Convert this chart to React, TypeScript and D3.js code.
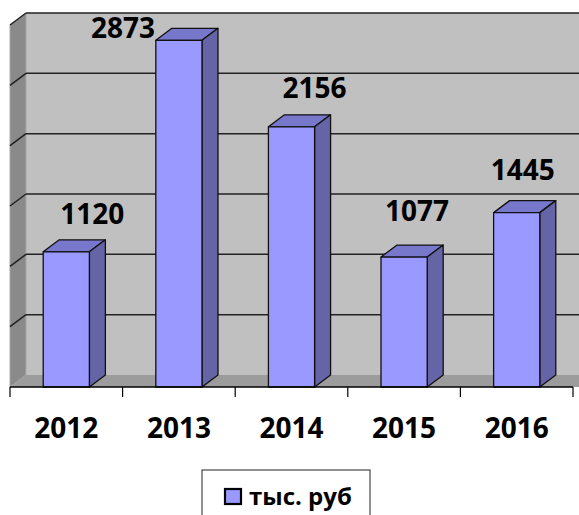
import * as d3 from 'd3';

const years = ['2012', '2013', '2014', '2015', '2016'];
const values = [1120, 2873, 2156, 1077, 1445];
const yTickValues = [0, 500, 1000, 1500, 2000, 2500, 3000];
const seriesName = 'тыс. руб';

// label nudges (Excel placed them a bit unevenly)
const labelDx = [26, -56, 23, 13, 6];
const labelGap = [28, 2, 29, 36, 33];

const W = 579;
const H = 515;
const FONT = '"Open Sans", "DejaVu Sans", sans-serif';

export default function App() {
  const floorY = 387; // front edge of floor
  const left = 10;
  const right = 573;
  const dx = 16;
  const dy = 12;
  const wallH = 362;

  const x = d3.scaleBand<string>().domain(years).range([left, right]).padding(0);
  const h = d3.scaleLinear().domain([0, 3000]).range([0, wallH]);
  const barW = x.bandwidth() * 0.41;

  const backBottom = floorY - dy;
  const backTop = backBottom - wallH;

  const front = '#9999FF';
  const top = '#7777CC';
  const side = '#6464A6';

  return (
    <div style={{ position: 'absolute', left: 0, top: 0 }}>
      <svg width={W} height={H} style={{ display: 'block' }}>
        <rect x={0} y={0} width={W} height={H} fill="#fff" />
        {/* back wall */}
        <rect x={left + dx} y={backTop} width={W} height={wallH} fill="#C0C0C0" />
        {/* left wall */}
        <polygon
          points={`${left},${floorY - wallH} ${left + dx},${backTop} ${left + dx},${backBottom} ${left},${floorY}`}
          fill="#8A8A8A"
          stroke="#A8A8A8"
          strokeWidth={1}
        />
        {/* floor */}
        <polygon
          points={`${left},${floorY} ${left + dx},${backBottom} ${right + dx + 20},${backBottom} ${right + 20},${floorY}`}
          fill="#9C9C9C"
        />
        {/* gridlines */}
        {yTickValues.filter(t => t > 0).map(t => (
          <g key={t}>
            <line x1={left + dx} x2={W + 10} y1={backBottom - h(t)} y2={backBottom - h(t)} stroke="#222" strokeWidth={1.5} />
            <line x1={left} x2={left + dx} y1={floorY - h(t)} y2={backBottom - h(t)} stroke="#222" strokeWidth={1.5} />
          </g>
        ))}
        {/* bars */}
        {values.map((v, i) => {
          const x0 = (x(years[i]) as number) + (x.bandwidth() - barW) / 2;
          const x1 = x0 + barW;
          const yT = floorY - h(v);
          return (
            <g key={years[i]} stroke="#111" strokeWidth={1.3} strokeLinejoin="round">
              <polygon points={`${x0},${yT} ${x0 + dx},${yT - dy} ${x1 + dx},${yT - dy} ${x1},${yT}`} fill={top} />
              <polygon points={`${x1},${yT} ${x1 + dx},${yT - dy} ${x1 + dx},${floorY - dy} ${x1},${floorY}`} fill={side} />
              <rect x={x0} y={yT} width={barW} height={floorY - yT} fill={front} />
            </g>
          );
        })}
        {/* axis line & ticks */}
        <line x1={left} x2={right} y1={floorY} y2={floorY} stroke="#000" strokeWidth={1.5} />
        {[...years.map(d => x(d) as number), right].map((tx, i) => (
          <line key={i} x1={tx} x2={tx} y1={floorY} y2={floorY + 10} stroke="#000" strokeWidth={1.2} />
        ))}
        {/* category labels */}
        {years.map(d => (
          <text
            key={d}
            x={(x(d) as number) + x.bandwidth() / 2}
            y={438}
            textAnchor="middle"
            fontFamily={FONT}
            fontWeight="bold"
            fontSize={28}
            fill="#000"
          >
            {d}
          </text>
        ))}
        {/* value labels */}
        {values.map((v, i) => (
          <text
            key={i}
            x={(x(years[i]) as number) + x.bandwidth() / 2 + labelDx[i]}
            y={floorY - h(v) - labelGap[i]}
            textAnchor="middle"
            fontFamily={FONT}
            fontWeight="bold"
            fontSize={28}
            fill="#000"
          >
            {v}
          </text>
        ))}
        {/* legend */}
        <rect x={202} y={470} width={168} height={60} fill="#fff" stroke="#222" strokeWidth={1} />
        <rect x={225} y={489} width={16} height={15} fill={front} stroke="#000" strokeWidth={2.2} />
        <text x={249} y={505} fontFamily={FONT} fontWeight="bold" fontSize={24} fill="#000">
          {seriesName}
        </text>
      </svg>
    </div>
  );
}
